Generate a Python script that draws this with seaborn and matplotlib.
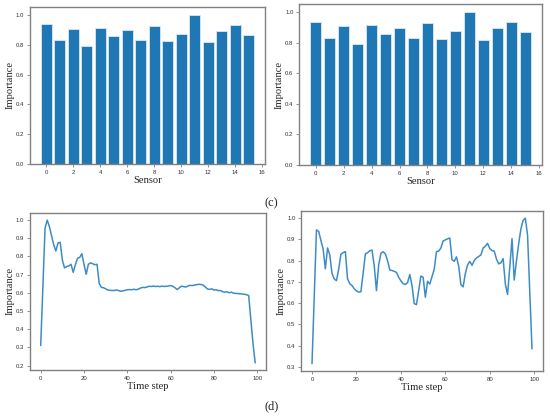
"""Sensor and time-step importance panels (c) and (d)."""

import matplotlib

matplotlib.use("Agg")
import matplotlib.pyplot as plt
import seaborn as sns

# panel (c): importance per sensor
sensors = list(range(16))
sensor_importance = [0.94, 0.835, 0.91, 0.79, 0.915, 0.86, 0.90, 0.835,
                     0.93, 0.825, 0.875, 1.0, 0.82, 0.895, 0.935, 0.87]

# panel (d): importance per time step
time_steps = list(range(100))
step_importance_left = [
    0.31, 0.63, 0.955, 1.0, 0.965, 0.915, 0.865, 0.83, 0.875, 0.878,
    0.78, 0.737, 0.745, 0.748, 0.757, 0.713, 0.755, 0.79, 0.795, 0.815,
    0.755, 0.702, 0.757, 0.765, 0.76, 0.755, 0.757, 0.652, 0.63, 0.628,
    0.622, 0.615, 0.614, 0.613, 0.613, 0.616, 0.612, 0.609, 0.611, 0.614,
    0.617, 0.618, 0.617, 0.62, 0.617, 0.62, 0.626, 0.63, 0.629, 0.632,
    0.636, 0.635, 0.637, 0.635, 0.636, 0.634, 0.637, 0.635, 0.636, 0.638,
    0.64, 0.636, 0.628, 0.618, 0.628, 0.637, 0.634, 0.632, 0.638, 0.641,
    0.64, 0.643, 0.645, 0.647, 0.646, 0.642, 0.632, 0.621, 0.619, 0.622,
    0.615, 0.617, 0.612, 0.613, 0.606, 0.604, 0.606, 0.60, 0.604, 0.598,
    0.597, 0.596, 0.595, 0.594, 0.592, 0.59, 0.585, 0.45, 0.32, 0.215,
]
step_importance_right = [
    0.315, 0.63, 0.945, 0.938, 0.895, 0.855, 0.762, 0.86, 0.827, 0.74,
    0.714, 0.706, 0.76, 0.83, 0.838, 0.843, 0.714, 0.692, 0.683, 0.668,
    0.658, 0.652, 0.654, 0.74, 0.832, 0.838, 0.847, 0.85, 0.776, 0.659,
    0.78, 0.835, 0.842, 0.832, 0.80, 0.756, 0.754, 0.75, 0.745, 0.722,
    0.705, 0.692, 0.688, 0.697, 0.735, 0.683, 0.598, 0.593, 0.66, 0.728,
    0.722, 0.628, 0.703, 0.69, 0.725, 0.76, 0.843, 0.845, 0.86, 0.893,
    0.898, 0.903, 0.907, 0.805, 0.797, 0.818, 0.775, 0.687, 0.677, 0.74,
    0.78, 0.797, 0.778, 0.80, 0.813, 0.82, 0.827, 0.86, 0.868, 0.882,
    0.857, 0.848, 0.845, 0.808, 0.785, 0.79, 0.81, 0.69, 0.641, 0.77,
    0.904, 0.709, 0.80, 0.88, 0.95, 0.99, 1.0, 0.92, 0.65, 0.385,
]

sns.set_style("white")
plt.rcParams["font.family"] = ["Liberation Sans", "DejaVu Sans"]

BAR_BLUE = "#1f77b4"
LINE_BLUE = "#3d8cc8"
LABEL_FONT = dict(family="Liberation Serif", size=7.6)


def _style_axes(ax, xlabel):
    for spine in ax.spines.values():
        spine.set_color("#808080")
        spine.set_linewidth(1.0)
    ax.tick_params(labelsize=4.3, length=2, width=0.5, color="#666666",
                   pad=2, labelcolor="#333333")
    ax.tick_params(axis="x", bottom=True)
    ax.tick_params(axis="y", left=True)
    ax.set_xlabel(xlabel, fontdict=LABEL_FONT, labelpad=1)
    ax.set_ylabel("Importance", fontdict=LABEL_FONT, labelpad=1)


fig = plt.figure(figsize=(5.5, 4.19), dpi=100)
ax_c1 = fig.add_axes([0.0545, 0.6086, 0.427, 0.3747])
ax_c2 = fig.add_axes([0.5436, 0.6062, 0.4418, 0.3842])
ax_d1 = fig.add_axes([0.0545, 0.1170, 0.429, 0.3747])
ax_d2 = fig.add_axes([0.5473, 0.1146, 0.440, 0.3819])

for ax in (ax_c1, ax_c2):
    sns.barplot(x=sensors, y=sensor_importance, native_scale=True, orient="x",
                color=BAR_BLUE, saturation=1, edgecolor="#dbe8f3",
                linewidth=0.6, ax=ax)
    ax.set_xlim(-1.2, 16.2)
    ax.set_ylim(0, 1.055)
    ax.set_xticks(range(0, 17, 2))
    ax.set_xticklabels([str(t) for t in range(0, 17, 2)])
    ax.set_yticks([0.0, 0.2, 0.4, 0.6, 0.8, 1.0])
    ax.set_yticklabels(["0.0", "0.2", "0.4", "0.6", "0.8", "1.0"])
    _style_axes(ax, "Sensor")

sns.lineplot(x=time_steps, y=step_importance_left, color=LINE_BLUE,
             linewidth=1.1, ax=ax_d1)
ax_d1.set_yticks([0.2, 0.3, 0.4, 0.5, 0.6, 0.7, 0.8, 0.9, 1.0])
sns.lineplot(x=time_steps, y=step_importance_right, color=LINE_BLUE,
             linewidth=1.1, ax=ax_d2)
ax_d2.set_yticks([0.3, 0.4, 0.5, 0.6, 0.7, 0.8, 0.9, 1.0])
for ax in (ax_d1, ax_d2):
    ax.set_xticks(range(0, 101, 20))
    ax.set_yticklabels([f"{v:.1f}" for v in ax.get_yticks()])
    _style_axes(ax, "Time step")

fig.text(0.494, 0.515, "(c)", ha="center", va="center",
         family="Liberation Serif", size=9)
fig.text(0.494, 0.030, "(d)", ha="center", va="center",
         family="Liberation Serif", size=9)

fig.savefig("out.png", dpi=100)
